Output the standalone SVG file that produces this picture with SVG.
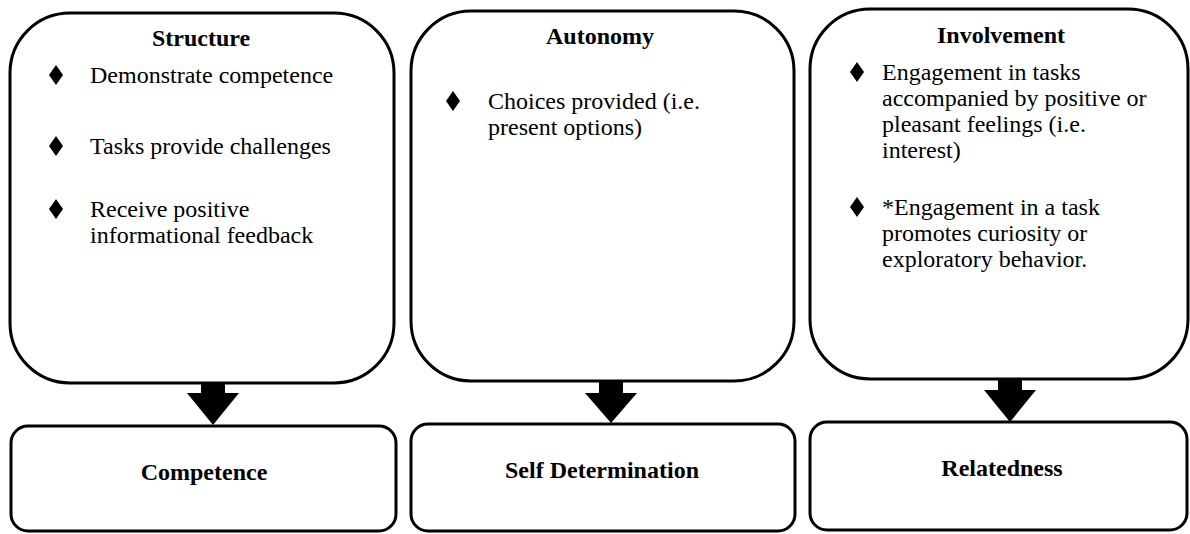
<svg xmlns="http://www.w3.org/2000/svg" width="1190" height="534" viewBox="0 0 1190 534">
<defs>
<style>
.box{fill:#fff;stroke:#000;stroke-width:3}
.t{font-family:"Liberation Serif","Times New Roman",serif;font-size:24px;fill:#000}
.b{font-weight:bold;text-anchor:middle}
.d{fill:#000}
.arr{fill:#000}
</style>
<polygon id="dia" points="0,-10 7,0 0,10 -7,0"/>
</defs>
<g id="connectors">
<polygon class="arr" points="201,382 225,382 225,393 239,393 213,425 187,393 201,393"/>
<polygon class="arr" points="599,380 623,380 623,393 637,393 611,423 585,393 599,393"/>
<polygon class="arr" points="998,378 1022,378 1022,390 1036,390 1010,422 984,390 998,390"/>
</g>
<g id="structure">
<rect class="box" x="10" y="13" width="384" height="370" rx="60" ry="60"/>
<text class="t b" x="201" y="46">Structure</text>
<use href="#dia" x="56" y="75"/>
<text class="t" x="90" y="83">Demonstrate competence</text>
<use href="#dia" x="56" y="146"/>
<text class="t" x="90" y="154">Tasks provide challenges</text>
<use href="#dia" x="56" y="209"/>
<text class="t" x="90" y="217">Receive positive</text>
<text class="t" x="90" y="243">informational feedback</text>
</g>
<g id="autonomy">
<rect class="box" x="411" y="11" width="383" height="370" rx="60" ry="60"/>
<text class="t b" x="600" y="44">Autonomy</text>
<use href="#dia" x="453" y="101"/>
<text class="t" x="488" y="109">Choices provided (i.e.</text>
<text class="t" x="488" y="135">present options)</text>
</g>
<g id="involvement">
<rect class="box" x="810" y="9" width="378" height="370" rx="60" ry="60"/>
<text class="t b" x="1001" y="43">Involvement</text>
<use href="#dia" x="857" y="72"/>
<text class="t" x="882" y="80">Engagement in tasks</text>
<text class="t" x="882" y="106">accompanied by positive or</text>
<text class="t" x="882" y="132">pleasant feelings (i.e.</text>
<text class="t" x="882" y="158">interest)</text>
<use href="#dia" x="857" y="207"/>
<text class="t" x="882" y="215">*Engagement in a task</text>
<text class="t" x="882" y="241">promotes curiosity or</text>
<text class="t" x="882" y="267">exploratory behavior.</text>
</g>
<g id="competence">
<rect class="box" x="11" y="426" width="385" height="105" rx="17" ry="17"/>
<text class="t b" x="204" y="480">Competence</text>
</g>
<g id="self-determination">
<rect class="box" x="411" y="424" width="384" height="107" rx="17" ry="17"/>
<text class="t b" x="602" y="478">Self Determination</text>
</g>
<g id="relatedness">
<rect class="box" x="810" y="422" width="377" height="108" rx="17" ry="17"/>
<text class="t b" x="1002" y="476">Relatedness</text>
</g>
</svg>
